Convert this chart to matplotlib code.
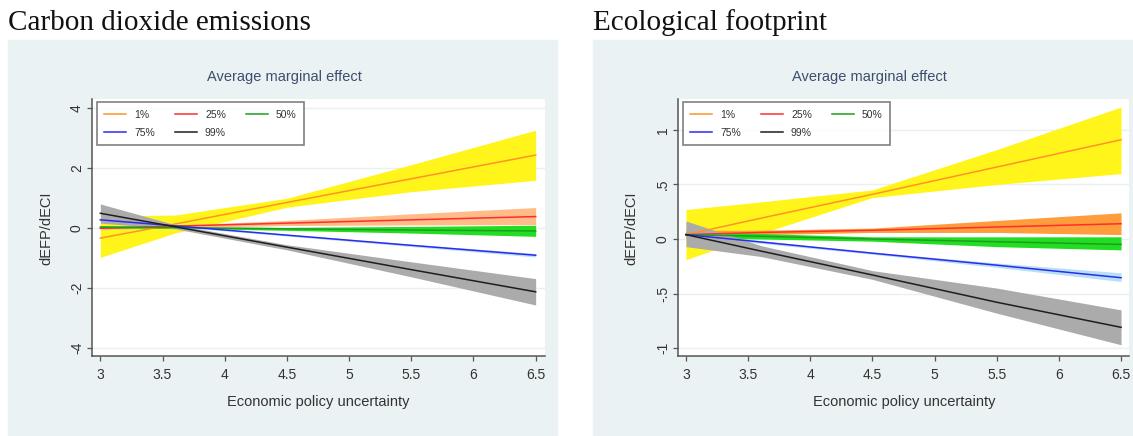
"""
Average marginal effect of ECI on CO2 / ecological footprint across quantiles
"""

import matplotlib
matplotlib.use("Agg")
import matplotlib.pyplot as plt
from matplotlib.patches import Rectangle

W, H = 1133, 436

KNOTS = [3.0, 3.6, 4.5, 5.5, 6.5]
QUANTS = ["1%", "25%", "50%", "75%", "99%"]
XTICKS = [3, 3.5, 4, 4.5, 5, 5.5, 6, 6.5]
XTICKLABELS = ["3", "3.5", "4", "4.5", "5", "5.5", "6", "6.5"]

# carbon dioxide emissions panel (rows follow QUANTS)
CO2_MID = [
    [-0.35, 0.12, 0.84, 1.63, 2.42],
    [-0.02, 0.05, 0.15, 0.26, 0.37],
    [0.02, 0.00, -0.04, -0.08, -0.11],
    [0.26, 0.06, -0.25, -0.59, -0.92],
    [0.48, 0.03, -0.65, -1.40, -2.14],
]
CO2_LO = [
    [-0.99, -0.18, 0.68, 1.20, 1.58],
    [-0.07, 0.00, 0.07, 0.09, 0.10],
    [-0.02, -0.02, -0.09, -0.18, -0.29],
    [0.21, 0.03, -0.28, -0.63, -0.98],
    [0.15, -0.04, -0.74, -1.64, -2.58],
]
CO2_HI = [
    [0.39, 0.42, 0.98, 2.10, 3.25],
    [0.03, 0.08, 0.24, 0.46, 0.67],
    [0.06, 0.02, 0.01, 0.04, 0.08],
    [0.31, 0.09, -0.22, -0.55, -0.86],
    [0.79, 0.10, -0.57, -1.14, -1.70],
]
CO2_YTICKS = [-4, -2, 0, 2, 4]
CO2_YTICKLABELS = ["-4", "-2", "0", "2", "4"]

# ecological footprint panel
EF_MID = [
    [0.04, 0.19, 0.41, 0.66, 0.91],
    [0.04, 0.06, 0.08, 0.11, 0.14],
    [0.04, 0.025, 0.00, -0.025, -0.05],
    [0.04, -0.027, -0.13, -0.24, -0.355],
    [0.04, -0.11, -0.33, -0.58, -0.81],
]
EF_LO = [
    [-0.19, 0.05, 0.38, 0.50, 0.60],
    [0.01, 0.04, 0.06, 0.06, 0.04],
    [0.01, 0.00, -0.02, -0.07, -0.10],
    [0.025, -0.04, -0.14, -0.26, -0.39],
    [-0.07, -0.16, -0.37, -0.68, -0.97],
]
EF_HI = [
    [0.27, 0.34, 0.45, 0.82, 1.21],
    [0.08, 0.08, 0.10, 0.17, 0.24],
    [0.07, 0.05, 0.02, 0.02, 0.02],
    [0.055, -0.015, -0.12, -0.22, -0.31],
    [0.165, -0.06, -0.29, -0.45, -0.65],
]
EF_YTICKS = [-1, -0.5, 0, 0.5, 1]
EF_YTICKLABELS = ["-1", "-.5", "0", ".5", "1"]

LINE_COLORS = ["#FF9326", "#FF2D2D", "#1E9E1E", "#2B2BEF", "#1E1E1E"]
CO2_BANDS = ["#FFF51A", "#FFBB88", "#22DD22", "#B8E0F4", "#ABABAB"]
EF_BANDS = ["#FFF51A", "#FF9C3C", "#22DD22", "#B8E0F4", "#ABABAB"]
BG = "#EAF2F3"
TXT = "#333333"
AXC = "#555555"

plt.rcParams["font.family"] = ["Liberation Sans", "DejaVu Sans"]


def px_rect(x0, y0, x1, y1):
    return [x0 / W, 1 - y1 / H, (x1 - x0) / W, (y1 - y0) / H]


def fx(x):
    return x / W


def fy(y):
    return 1 - y / H


def draw_panel(fig, title, bg_px, ax_px, xlim, ylim, yticks, yticklabels,
               mid, lo, hi, bands, title_x, amfe_x, xlab_x, ylab_x):
    bx0, by0, bx1, by1 = bg_px
    fig.patches.append(Rectangle((fx(bx0), fy(by1)), (bx1 - bx0) / W, (by1 - by0) / H,
                                 transform=fig.transFigure, color=BG, zorder=-5))
    fig.text(fx(title_x), fy(29.5), title, family="Liberation Serif",
             fontsize=21, color="#111111", va="baseline", ha="left")
    fig.text(fx(amfe_x), fy(77), "Average marginal effect", fontsize=10.5,
             color="#3E4D6E", ha="center", va="center")
    fig.text(fx(xlab_x), fy(402), "Economic policy uncertainty", fontsize=10.5,
             color=TXT, ha="center", va="center")
    fig.text(fx(ylab_x), fy(228), "dEFP/dECI", fontsize=10.5, color=TXT,
             ha="center", va="center", rotation=90)

    ax = fig.add_axes(px_rect(*ax_px))
    ax.set_facecolor("white")

    for i in range(len(QUANTS)):
        ax.fill_between(KNOTS, lo[i], hi[i], color=bands[i], lw=0, zorder=2)
    handles = []
    for i, q in enumerate(QUANTS):
        h, = ax.plot(KNOTS, mid[i], color=LINE_COLORS[i], lw=1.1, label=q, zorder=3)
        handles.append(h)

    ax.set_xlim(*xlim)
    ax.set_ylim(*ylim)
    ax.set_xticks(XTICKS)
    ax.set_xticklabels(XTICKLABELS)
    ax.set_yticks(yticks)
    ax.set_yticklabels(yticklabels)
    ax.tick_params(direction="out", length=3.8, width=0.9, color=AXC,
                   labelsize=10, labelcolor=TXT)
    ax.tick_params(axis="x", pad=4.5)
    ax.tick_params(axis="y", pad=2.0, labelrotation=90)
    for lab in ax.get_yticklabels():
        lab.set_va("center")

    ax.yaxis.grid(True, color="#E8F0F2", lw=1.0)
    ax.set_axisbelow(True)
    for s in ("top", "right"):
        ax.spines[s].set_visible(False)
    for s in ("left", "bottom"):
        ax.spines[s].set_color(AXC)
        ax.spines[s].set_linewidth(1.1)

    # row-wise legend order: 1% 25% 50% / 75% 99%
    order = [0, 3, 1, 4, 2]
    axw = ax_px[2] - ax_px[0]
    axh = ax_px[3] - ax_px[1]
    leg = ax.legend([handles[k] for k in order], [QUANTS[k] for k in order],
                    ncol=3, loc="upper left",
                    bbox_to_anchor=(4.7 / axw, 1 - 3.3 / axh),
                    borderaxespad=0, fontsize=7.5, handlelength=2.1,
                    handletextpad=0.8, columnspacing=1.9, labelspacing=0.8,
                    borderpad=0.7, frameon=True, fancybox=False)
    leg.get_frame().set_edgecolor("#606060")
    leg.get_frame().set_linewidth(1.2)
    for t in leg.get_texts():
        t.set_color(TXT)
    return ax


fig = plt.figure(figsize=(W / 100, H / 100), dpi=100)

draw_panel(fig, "Carbon dioxide emissions", (8, 40, 557, 436), (92, 99, 545, 356),
           (2.933, 6.575), (-4.28, 4.29), CO2_YTICKS, CO2_YTICKLABELS,
           CO2_MID, CO2_LO, CO2_HI, CO2_BANDS, 8, 284, 318, 46)

draw_panel(fig, "Ecological footprint", (593, 40, 1133, 436), (678, 99, 1129, 356),
           (2.936, 6.564), (-1.073, 1.284), EF_YTICKS, EF_YTICKLABELS,
           EF_MID, EF_LO, EF_HI, EF_BANDS, 593, 869, 904, 631)

fig.savefig("out.png", dpi=100, facecolor="white")
